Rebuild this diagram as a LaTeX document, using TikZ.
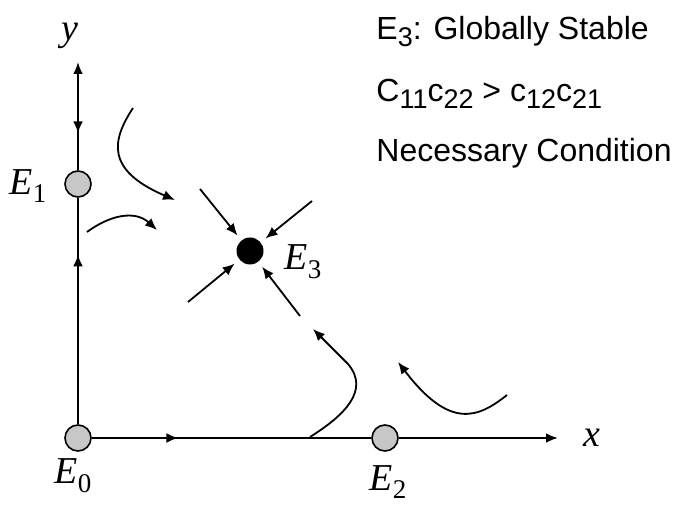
\documentclass[tikz,border=0pt]{standalone}
\usepackage{fontspec}
\newfontfamily\txtfont{Liberation Sans}
\newfontfamily\serfont{Liberation Serif}
\usetikzlibrary{arrows.meta,decorations.markings}
\newcommand\sbs[1]{\raisebox{-0.4ex}{\fontsize{13.5}{14}\selectfont #1}}
\newcommand\msub[1]{\raisebox{-0.5ex}{\fontsize{13.5}{14}\selectfont\upshape #1}}
\begin{document}
\begin{tikzpicture}[x=0.5pt,y=-0.5pt,
  axis/.style={line width=1.2pt},
  tip/.style={-{Latex[length=6pt,width=5pt]}},
  flow/.style={line width=0.9pt,-{Latex[length=6pt,width=5pt]}},
  eqg/.style={circle,draw,line width=0.8pt,fill=black!22,minimum size=13pt,inner sep=0pt},
  eqb/.style={circle,fill=black,minimum size=13.5pt,inner sep=0pt},
  midfwd/.style={postaction={decorate},decoration={markings,mark=at position #1 with {\arrow{Latex[length=6pt,width=5pt]}}}},
  midrev/.style={postaction={decorate},decoration={markings,mark=at position #1 with {\arrowreversed{Latex[length=6pt,width=5pt]}}}},
  mlab/.style={font=\serfont\itshape\fontsize{19}{21}\selectfont,inner sep=0pt},
  tlab/.style={font=\txtfont\fontsize{16}{19}\selectfont,anchor=base west,inner sep=0pt}
]
\useasboundingbox (0,0) rectangle (678,506);

% equilibria
\node[eqg] (E0) at (78,438) {};
\node[eqg] (E1) at (78,184) {};
\node[eqg] (E2) at (385,438) {};
\node[eqb] (E3) at (250,251) {};

\coordinate (ytop) at (78,62);
\coordinate (xend) at (558,438);

% axes
\draw[axis,midfwd=0.75] (E0) -- (E1);
\draw[axis,tip,midrev=0.34] (E1) -- (ytop);
\draw[axis,midfwd=0.31] (E0) -- (E2);
\draw[axis,tip] (E2) -- (xend);

% labels
\node[mlab] (ly) at (70,36) {y};
\node[mlab] (lx) at (592,438) {x};
\node[mlab] (l1) at (28,186) {E\msub{1}};
\node[mlab] (l0) at (73,476) {E\msub{0}};
\node[mlab] (l2) at (388,482) {E\msub{2}};
\node[mlab] (l3) at (303,262) {E\msub{3}};

% straight arrows into E3
\coordinate (a1) at (200,189);
\coordinate (a2) at (312,201);
\coordinate (a3) at (188,302);
\coordinate (a4) at (300,316);
\draw[flow,shorten >=3pt] (a1) -- (E3);
\draw[flow,shorten >=3pt] (a2) -- (E3);
\draw[flow,shorten >=3pt] (a3) -- (E3);
\draw[flow,shorten >=3pt] (a4) -- (E3);

% curved trajectories
\coordinate (c1s) at (133,108);
\coordinate (c1e) at (175,200);
\draw[flow] (c1s) .. controls (112,140) and (105,170) .. (c1e);
\coordinate (c2s) at (87,232);
\coordinate (c2e) at (157,230);
\draw[flow] (c2s) .. controls (110,215) and (135,210) .. (c2e);
\coordinate (c3s) at (310,437);
\coordinate (c3m) at (348,364);
\coordinate (c3e) at (313,329);
\draw[flow] (c3s) .. controls (345,415) and (370,390) .. (c3m) -- (c3e);
\coordinate (c4s) at (507,395);
\coordinate (c4e) at (398,362);
\draw[flow] (c4s) .. controls (478,418) and (450,430) .. (c4e);

% text
\node[tlab] (t1) at (376,40) {E\sbs{3}: Globally Stable};
\node[tlab] (t2) at (376,102) {C\sbs{11}c\sbs{22} > c\sbs{12}c\sbs{21}};
\node[tlab] (t3) at (376,162) {Necessary Condition};
\end{tikzpicture}
\end{document}
